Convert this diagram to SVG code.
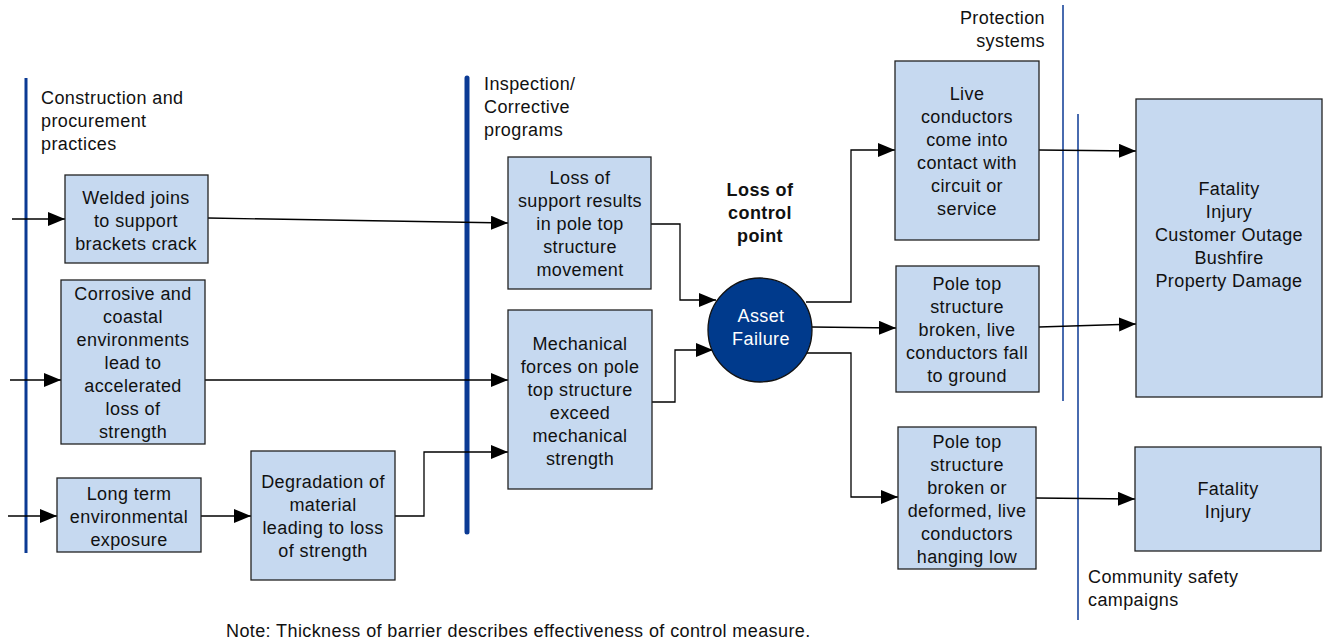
<svg xmlns="http://www.w3.org/2000/svg" width="1333" height="644" viewBox="0 0 1333 644">
<style>
.box{fill:#c6d9f0;stroke:#222;stroke-width:1.3}
.t{font-family:"Liberation Sans",Arial,sans-serif;font-size:18px;letter-spacing:0.4px;fill:#111;text-anchor:middle}
.l{font-family:"Liberation Sans",Arial,sans-serif;font-size:18px;letter-spacing:0.4px;fill:#111}
.w{fill:#fff}
.c{fill:none;stroke:#000;stroke-width:1.3;marker-end:url(#ah)}
.bar{stroke:#0b3a94;fill:none}
</style>
<defs>
<marker id="ah" markerUnits="userSpaceOnUse" markerWidth="18" markerHeight="14" refX="17" refY="7" orient="auto">
<path d="M0,0 L17,7 L0,14 Z" fill="#000"/>
</marker>
</defs>
<rect width="1333" height="644" fill="#fff"/>

<g id="barriers">
<line class="bar" x1="26" y1="78" x2="26" y2="553" stroke-width="3"/>
<line class="bar" x1="467" y1="78" x2="467" y2="532" stroke-width="5" stroke-linecap="round"/>
<line class="bar" x1="1063" y1="5" x2="1063" y2="401" stroke-width="1.5"/>
<line class="bar" x1="1078" y1="114" x2="1078" y2="620" stroke-width="1.5"/>
</g>

<g id="labels">
<text class="l" x="41" y="104">Construction and</text>
<text class="l" x="41" y="127">procurement</text>
<text class="l" x="41" y="150">practices</text>
<text class="l" x="484" y="90">Inspection/</text>
<text class="l" x="484" y="113">Corrective</text>
<text class="l" x="484" y="136">programs</text>
<text class="l" x="1045" y="24" text-anchor="end">Protection</text>
<text class="l" x="1045" y="47" text-anchor="end">systems</text>
<text class="l" x="1088" y="583">Community safety</text>
<text class="l" x="1088" y="606">campaigns</text>
<text class="t" x="760" y="196" font-weight="bold">Loss of</text>
<text class="t" x="760" y="219" font-weight="bold">control</text>
<text class="t" x="760" y="242" font-weight="bold">point</text>
<text class="l" x="226" y="637">Note: Thickness of barrier describes effectiveness of control measure.</text>
</g>

<g id="connectors">
<path class="c" d="M12,219 L65,219"/>
<path class="c" d="M10,380 L61,380"/>
<path class="c" d="M8,516 L57,516"/>
<path class="c" d="M208,218 L508,223"/>
<path class="c" d="M205,380 L508,380"/>
<path class="c" d="M201,516 L251,516"/>
<path class="c" d="M395,516 L424,516 L424,452 L508,452"/>
<path class="c" d="M651,224 L680,224 L680,300 L716,300"/>
<path class="c" d="M652,402 L675,402 L675,350 L713,350"/>
<path class="c" d="M806,302 L851,302 L851,150 L895,150"/>
<path class="c" d="M812,327 L896,328"/>
<path class="c" d="M806,353 L851,353 L851,497 L898,497"/>
<path class="c" d="M1039,150 L1136,151"/>
<path class="c" d="M1039,327 L1136,324"/>
<path class="c" d="M1036,498 L1135,499"/>
</g>

<g id="n-welded">
<rect class="box" x="65" y="175" width="143" height="88"/>
<text class="t" x="136" y="204">Welded joins</text>
<text class="t" x="136" y="227">to support</text>
<text class="t" x="136" y="250">brackets crack</text>
</g>
<g id="n-corrosive">
<rect class="box" x="61" y="280" width="144" height="164"/>
<text class="t" x="133" y="300">Corrosive and</text>
<text class="t" x="133" y="323">coastal</text>
<text class="t" x="133" y="346">environments</text>
<text class="t" x="133" y="369">lead to</text>
<text class="t" x="133" y="392">accelerated</text>
<text class="t" x="133" y="415">loss of</text>
<text class="t" x="133" y="438">strength</text>
</g>
<g id="n-longterm">
<rect class="box" x="57" y="478" width="144" height="74"/>
<text class="t" x="129" y="500">Long term</text>
<text class="t" x="129" y="523">environmental</text>
<text class="t" x="129" y="546">exposure</text>
</g>
<g id="n-degradation">
<rect class="box" x="251" y="451" width="144" height="129"/>
<text class="t" x="323" y="488">Degradation of</text>
<text class="t" x="323" y="511">material</text>
<text class="t" x="323" y="534">leading to loss</text>
<text class="t" x="323" y="557">of strength</text>
</g>
<g id="n-losssupport">
<rect class="box" x="508" y="157" width="143" height="132"/>
<text class="t" x="580" y="184">Loss of</text>
<text class="t" x="580" y="207">support results</text>
<text class="t" x="580" y="230">in pole top</text>
<text class="t" x="580" y="253">structure</text>
<text class="t" x="580" y="276">movement</text>
</g>
<g id="n-mechanical">
<rect class="box" x="508" y="310" width="144" height="179"/>
<text class="t" x="580" y="350">Mechanical</text>
<text class="t" x="580" y="373">forces on pole</text>
<text class="t" x="580" y="396">top structure</text>
<text class="t" x="580" y="419">exceed</text>
<text class="t" x="580" y="442">mechanical</text>
<text class="t" x="580" y="465">strength</text>
</g>
<g id="n-asset">
<circle cx="760" cy="330" r="52" fill="#003a8c" stroke="#111" stroke-width="1.3"/>
<text class="t w" x="761" y="322">Asset</text>
<text class="t w" x="761" y="345">Failure</text>
</g>
<g id="n-live">
<rect class="box" x="895" y="61" width="144" height="179"/>
<text class="t" x="967" y="100">Live</text>
<text class="t" x="967" y="123">conductors</text>
<text class="t" x="967" y="146">come into</text>
<text class="t" x="967" y="169">contact with</text>
<text class="t" x="967" y="192">circuit or</text>
<text class="t" x="967" y="215">service</text>
</g>
<g id="n-broken">
<rect class="box" x="896" y="266" width="143" height="126"/>
<text class="t" x="967" y="290">Pole top</text>
<text class="t" x="967" y="313">structure</text>
<text class="t" x="967" y="336">broken, live</text>
<text class="t" x="967" y="359">conductors fall</text>
<text class="t" x="967" y="382">to ground</text>
</g>
<g id="n-deformed">
<rect class="box" x="898" y="427" width="138" height="142"/>
<text class="t" x="967" y="448">Pole top</text>
<text class="t" x="967" y="471">structure</text>
<text class="t" x="967" y="494">broken or</text>
<text class="t" x="967" y="517">deformed, live</text>
<text class="t" x="967" y="540">conductors</text>
<text class="t" x="967" y="563">hanging low</text>
</g>
<g id="n-consequences">
<rect class="box" x="1136" y="99" width="186" height="298"/>
<text class="t" x="1229" y="195">Fatality</text>
<text class="t" x="1229" y="218">Injury</text>
<text class="t" x="1229" y="241">Customer Outage</text>
<text class="t" x="1229" y="264">Bushfire</text>
<text class="t" x="1229" y="287">Property Damage</text>
</g>
<g id="n-fatality">
<rect class="box" x="1135" y="447" width="186" height="104"/>
<text class="t" x="1228" y="495">Fatality</text>
<text class="t" x="1228" y="518">Injury</text>
</g>
</svg>
